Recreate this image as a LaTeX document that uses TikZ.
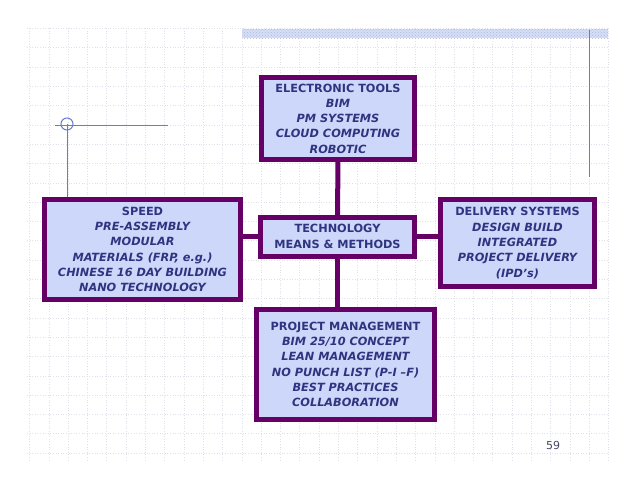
\documentclass[tikz,border=0pt]{standalone}
\usepackage{fontspec}
\setmainfont{DejaVu Sans}
\usetikzlibrary{patterns}
\definecolor{boxfill}{RGB}{205,215,250}
\definecolor{boxline}{RGB}{102,0,102}
\definecolor{txt}{RGB}{48,52,128}
\definecolor{deco}{RGB}{100,125,205}
\definecolor{gridc}{RGB}{222,225,234}
\definecolor{barc}{RGB}{214,222,245}
\definecolor{bardot}{RGB}{170,186,228}
\tikzset{
  box/.style={draw=boxline, line width=5pt, fill=boxfill, text=txt, align=center,
    inner sep=0pt, outer sep=0pt, font=\fontsize{11.3}{15.3}\selectfont\bfseries},
  conn/.style={draw=boxline, line width=5pt},
  gridline/.style={draw=gridc, line width=0.6pt, dotted},
  decoline/.style={draw=deco, line width=1pt}
}
\begin{document}
\begin{tikzpicture}[x=1pt,y=-1pt]
\useasboundingbox (0,0) rectangle (638,493);
\fill[white] (0,0) rectangle (638,493);
% background grid
\foreach \k in {0,...,22} {
  \draw[gridline] (27,{28.4+19.3*\k}) -- (608,{28.4+19.3*\k});
}
\foreach \k in {0,...,30} {
  \draw[gridline] ({29.5+19.3*\k},28) -- ({29.5+19.3*\k},460);
}
% top bar
\fill[barc] (242,29) rectangle (608,38);
\fill[pattern=crosshatch dots, pattern color=bardot] (242,29) rectangle (608,38);
% decorative lines
\draw[decoline] (55,125) -- (168,125);
\draw[decoline] (67,124) circle (6);
\draw[decoline] (67,124) -- (67,197);
\draw[decoline] (589,30) -- (589,177);
% boxes
\node[box, minimum width=153pt, minimum height=82pt] (tools) at (338,118.5)
  {ELECTRONIC TOOLS\\ \itshape BIM\\ \itshape PM SYSTEMS\\ \itshape CLOUD COMPUTING\\ \itshape ROBOTIC};
\node[box, minimum width=154pt, minimum height=39pt] (tech) at (337.5,236.5)
  {TECHNOLOGY\\ MEANS \& METHODS};
\node[box, minimum width=196pt, minimum height=100pt] (speed) at (142.5,249.5)
  {SPEED\\ \itshape PRE-ASSEMBLY\\ \itshape MODULAR\\ \itshape MATERIALS (FRP, e.g.)\\ \itshape CHINESE 16 DAY BUILDING\\ \itshape NANO TECHNOLOGY};
\node[box, minimum width=154pt, minimum height=87pt] (deliv) at (517.5,243)
  {DELIVERY SYSTEMS\\ \itshape DESIGN BUILD\\ \itshape INTEGRATED\\ \itshape PROJECT DELIVERY\\ \itshape (IPD’s)};
\node[box, minimum width=178pt, minimum height=110pt] (pm) at (345.5,364.5)
  {PROJECT MANAGEMENT\\ \itshape BIM 25/10 CONCEPT\\ \itshape LEAN MANAGEMENT\\ \itshape NO PUNCH LIST (P-I –F)\\ \itshape BEST PRACTICES\\ \itshape COLLABORATION};
% connectors
\draw[conn] (tools.south) -- (tech.north);
\draw[conn] (tech.south) -- (tech.south |- pm.north);
\draw[conn] (tech.west) -- (tech.west -| speed.east);
\draw[conn] (tech.east) -- (tech.east -| deliv.west);
% page number
\node[text={rgb,255:red,70;green,72;blue,100}, font=\fontsize{11}{13}\selectfont, inner sep=0pt] (pnum) at (553,445) {59};
\end{tikzpicture}
\end{document}
